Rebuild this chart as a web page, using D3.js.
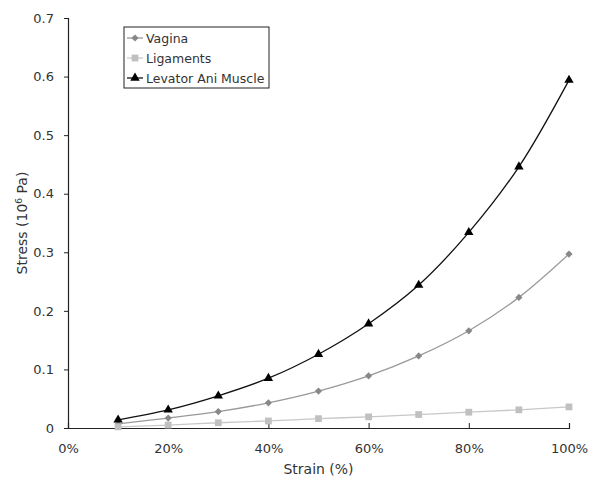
<!DOCTYPE html>
<html lang="en">
<head>
<meta charset="UTF-8" />
<script src="https://cdnjs.cloudflare.com/ajax/libs/d3/7.8.5/d3.min.js"></script>
<title>Stress vs Strain</title>
<style>
body { margin: 0; background: #fff; }
svg text { font-family: "DejaVu Sans", Verdana, sans-serif; fill: #333; }
</style>
</head>
<body>
<svg id="chart" width="600" height="491"></svg>
<script>

const strain = [0.1, 0.2, 0.3, 0.4, 0.5, 0.6, 0.7, 0.8, 0.9, 1.0];
const vagina = [0.007, 0.017, 0.028, 0.043, 0.063, 0.089, 0.123, 0.166, 0.223, 0.297];
const ligaments = [0.002, 0.005, 0.009, 0.012, 0.016, 0.019, 0.023, 0.027, 0.031, 0.036];
const levator = [0.014, 0.031, 0.055, 0.085, 0.126, 0.178, 0.244, 0.334, 0.446, 0.594];
const seriesNames = ['Vagina', 'Ligaments', 'Levator Ani Muscle'];
const xTicks = [0, 0.2, 0.4, 0.6, 0.8, 1.0];
const yTicks = [0, 0.1, 0.2, 0.3, 0.4, 0.5, 0.6, 0.7];

const series = [
  { name: seriesNames[0], values: vagina, line: '#999', fill: '#888', symbol: d3.symbolSquare, size: 26, rot: 45 },
  { name: seriesNames[1], values: ligaments, line: '#c8c8c8', fill: '#c0c0c0', symbol: d3.symbolSquare, size: 46, rot: 0 },
  { name: seriesNames[2], values: levator, line: '#111', fill: '#000', symbol: d3.symbolTriangle, size: 38, rot: 0 }
];

const svg = d3.select('#chart');
const x = d3.scaleLinear().domain([0, 1]).range([68, 569]);
const y = d3.scaleLinear().domain([0, 0.7]).range([428, 18]);

// y axis, ticks outside
const yAxis = svg.append('g')
  .attr('transform', `translate(${x(0)},0)`)
  .call(d3.axisLeft(y).tickValues(yTicks).tickSize(4).tickPadding(10)
    .tickFormat(d => d === 0 ? '0' : d3.format('.1f')(d)));

// x axis, ticks pointing up
const xAxis = svg.append('g')
  .attr('transform', `translate(0,${y(0)})`)
  .call(d3.axisBottom(x).tickValues(xTicks).tickSize(-5).tickPadding(16)
    .tickFormat(d3.format('.0%')));

[yAxis, xAxis].forEach(a => {
  a.select('.domain').attr('stroke', '#222').attr('stroke-width', 1.2);
  a.selectAll('.tick line').attr('stroke', '#222');
  a.selectAll('.tick text').style('font-size', '13px').attr('fill', '#333');
});
xAxis.selectAll('.tick').filter(d => d === 0).select('line').remove();

const line = d3.line().curve(d3.curveCatmullRom.alpha(0.5));

series.forEach(s => {
  const pts = strain.map((v, i) => [x(v), y(s.values[i])]);
  svg.append('path')
    .attr('d', line(pts))
    .attr('fill', 'none')
    .attr('stroke', s.line)
    .attr('stroke-width', 1.3);
  svg.append('g').selectAll('path')
    .data(pts)
    .join('path')
    .attr('transform', d => `translate(${d[0]},${d[1]}) rotate(${s.rot})`)
    .attr('d', d3.symbol().type(s.symbol).size(s.size))
    .attr('fill', s.fill);
});

// axis titles
svg.append('text')
  .attr('x', (x(0) + x(1)) / 2)
  .attr('y', 474)
  .attr('text-anchor', 'middle')
  .style('font-size', '14px')
  .text('Strain (%)');

const yt = svg.append('text')
  .attr('transform', `translate(27,${y(0.35)}) rotate(-90)`)
  .attr('text-anchor', 'middle')
  .style('font-size', '14px');
yt.append('tspan').text('Stress (10');
yt.append('tspan').attr('dy', -5).style('font-size', '9px').text('6');
yt.append('tspan').attr('dy', 5).text(' Pa)');

// legend
const legend = svg.append('g');
legend.append('rect')
  .attr('x', 124).attr('y', 27).attr('width', 145).attr('height', 61)
  .attr('fill', '#fff').attr('stroke', '#222').attr('stroke-width', 1);
series.forEach((s, i) => {
  const ly = 38 + i * 20;
  legend.append('line')
    .attr('x1', 127).attr('x2', 143).attr('y1', ly).attr('y2', ly)
    .attr('stroke', s.line).attr('stroke-width', 1.3);
  legend.append('path')
    .attr('transform', `translate(135,${ly}) rotate(${s.rot})`)
    .attr('d', d3.symbol().type(s.symbol).size(s.size))
    .attr('fill', s.fill);
  legend.append('text')
    .attr('x', 146).attr('y', ly + 4.5)
    .style('font-size', '12.5px')
    .text(s.name);
});

</script>
</body>
</html>
